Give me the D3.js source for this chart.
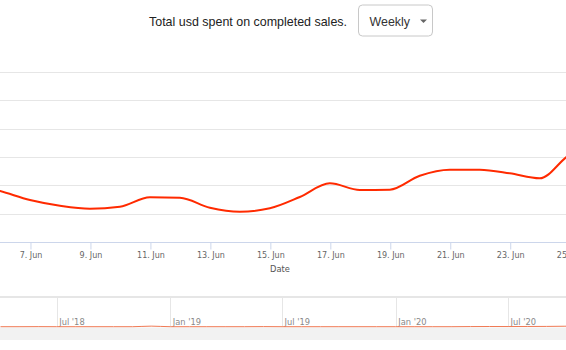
<!DOCTYPE html>
<html>
<head>
<meta charset="utf-8">
<script src="https://cdn.jsdelivr.net/npm/d3@7"></script>
<style>
  html, body { margin: 0; padding: 0; background: #fff; overflow: hidden; }
  svg { display: block; }
</style>
</head>
<body>
<svg id="chart" width="566" height="350"></svg>
<script>
// Daily totals (USD) for completed sales
const days = ["2020-06-05","2020-06-06","2020-06-07","2020-06-08","2020-06-09","2020-06-10",
  "2020-06-11","2020-06-12","2020-06-13","2020-06-14","2020-06-15","2020-06-16","2020-06-17",
  "2020-06-18","2020-06-19","2020-06-20","2020-06-21","2020-06-22","2020-06-23","2020-06-24",
  "2020-06-25","2020-06-26"];
const usdSpent = [2050, 1804, 1488, 1287, 1182, 1252, 1583, 1565, 1217, 1076, 1196, 1593, 2075,
  1840, 1850, 2343, 2554, 2550, 2427, 2251, 3080, 3400];

// Y axis gridline values
const yTicks = [0, 1000, 2000, 3000, 4000, 5000, 6000];
// X axis tick days
const xTickDays = ["2020-06-07","2020-06-09","2020-06-11","2020-06-13","2020-06-15",
  "2020-06-17","2020-06-19","2020-06-21","2020-06-23","2020-06-25"];

// Navigator overview: monthly totals
const navMonths = ["2018-04","2018-05","2018-06","2018-07","2018-08","2018-09","2018-10","2018-11",
  "2018-12","2019-01","2019-02","2019-03","2019-04","2019-05","2019-06","2019-07","2019-08",
  "2019-09","2019-10","2019-11","2019-12","2020-01","2020-02","2020-03","2020-04","2020-05",
  "2020-06","2020-07","2020-08","2020-09","2020-10","2020-11","2020-12"];
const navTotals = [0, 0, 200, 0, 0, 0, 0, 0, 1800, 0, 0, 0, 0, 0, 300, 0, 0, 0, 0, 0, 0, 0, 0,
  0, 0, 400, 600, 500, 700, 900, 1500, 2500, 90000];
const navTickMonths = ["2018-07","2019-01","2019-07","2020-01","2020-07"];

const parseDay = d3.timeParse("%Y-%m-%d");
const parseMonth = d3.timeParse("%Y-%m");

const series = days.map((d, i) => ({ date: parseDay(d), value: usdSpent[i] }));
const navSeries = navMonths.map((m, i) => ({ date: parseMonth(m), value: navTotals[i] }));

const svg = d3.select("#chart");
const W = 566;

// ---- header: title and period selector ----
svg.append("text")
  .attr("x", 149).attr("y", 25.7)
  .attr("textLength", 198).attr("lengthAdjust", "spacingAndGlyphs")
  .style("font-family", "'Liberation Sans', Arial, sans-serif")
  .style("font-size", "13.3px")
  .style("fill", "#222")
  .text("Total usd spent on completed sales.");

const sel = svg.append("g");
sel.append("rect")
  .attr("x", 358.5).attr("y", 5).attr("width", 74).attr("height", 31)
  .attr("rx", 4)
  .attr("fill", "#fff").attr("stroke", "#c8c8c8");
sel.append("text")
  .attr("x", 369.5).attr("y", 25.7)
  .attr("textLength", 40.5).attr("lengthAdjust", "spacingAndGlyphs")
  .style("font-family", "'Liberation Sans', Arial, sans-serif")
  .style("font-size", "13.5px")
  .style("fill", "#333")
  .text("Weekly");
sel.append("path")
  .attr("d", "M420,19.5 L427,19.5 L423.5,23 Z")
  .attr("fill", "#666");

// ---- main plot ----
const plotTop = 71.7, plotBottom = 242.3;
const x = d3.scaleTime()
  .domain([parseDay("2020-06-06"), parseDay("2020-06-25")])
  .range([0, 569.7]);
const y = d3.scaleLinear()
  .domain([0, 6000])
  .range([plotBottom, plotTop]);

// horizontal gridlines
svg.append("g")
  .selectAll("line")
  .data(yTicks.slice(1))
  .join("line")
  .attr("x1", 0).attr("x2", W)
  .attr("y1", d => Math.round(y(d)) + 0.5)
  .attr("y2", d => Math.round(y(d)) + 0.5)
  .attr("stroke", "#e6e6e6");

// x axis
const xAxis = d3.axisBottom(x)
  .tickValues(xTickDays.map(parseDay))
  .tickFormat(d3.timeFormat("%-d. %b"))
  .tickSize(7)
  .tickPadding(3);

const gx = svg.append("g")
  .attr("transform", `translate(0.5,${Math.round(plotBottom) + 0.5})`)
  .call(xAxis);
gx.select(".domain").attr("d", `M-1,0H${W}`).attr("stroke", "#ccd6eb");
gx.selectAll(".tick line").attr("stroke", "#ccd6eb");
gx.selectAll(".tick text")
  .style("font-family", "'DejaVu Sans', Verdana, sans-serif")
  .style("font-size", "8px")
  .style("fill", "#666");

svg.append("text")
  .attr("x", 280).attr("y", 272)
  .attr("text-anchor", "middle")
  .style("font-family", "'DejaVu Sans', Verdana, sans-serif")
  .style("font-size", "8.3px")
  .style("fill", "#555")
  .text("Date");

// series line
svg.append("defs").append("clipPath").attr("id", "plotClip")
  .append("rect").attr("x", 0).attr("y", plotTop - 5).attr("width", W).attr("height", plotBottom - plotTop + 5);

const line = d3.line()
  .x(d => x(d.date))
  .y(d => y(d.value))
  .curve(d3.curveMonotoneX);

svg.append("path")
  .datum(series)
  .attr("clip-path", "url(#plotClip)")
  .attr("d", line)
  .attr("fill", "none")
  .attr("stroke", "#ff2a00")
  .attr("stroke-width", 2)
  .attr("stroke-linejoin", "round");

// ---- navigator ----
const navTop = 298, navBottom = 327;
const nx = d3.scaleTime()
  .domain([parseMonth("2018-07"), parseMonth("2020-07")])
  .range([56.7, 508.1]);
const ny = d3.scaleLinear()
  .domain([0, d3.max(navTotals)])
  .range([navBottom - 0.3, navTop]);

svg.append("rect")
  .attr("x", 0).attr("y", 296).attr("width", W).attr("height", 2)
  .attr("fill", "#e6e6e6");

const navTicks = navTickMonths.map(parseMonth);
svg.append("g")
  .selectAll("line")
  .data(navTicks)
  .join("line")
  .attr("x1", d => Math.round(nx(d)) + 0.5)
  .attr("x2", d => Math.round(nx(d)) + 0.5)
  .attr("y1", navTop).attr("y2", navBottom)
  .attr("stroke", "#e6e6e6");

svg.append("g")
  .selectAll("text")
  .data(navTicks)
  .join("text")
  .attr("x", d => nx(d) + 2.5)
  .attr("y", 324.5)
  .style("font-family", "'DejaVu Sans', Verdana, sans-serif")
  .style("font-size", "8.3px")
  .style("fill", "#888")
  .text(d3.timeFormat("%b '%y"));

svg.append("rect")
  .attr("x", 0).attr("y", 327.5).attr("width", W).attr("height", 12.5)
  .attr("fill", "#f2f2f2");

svg.append("path")
  .datum(navSeries)
  .attr("d", d3.line().x(d => nx(d.date)).y(d => ny(d.value)).curve(d3.curveMonotoneX))
  .attr("fill", "none")
  .attr("stroke", "#f07a55")
  .attr("stroke-width", 1);
</script>
</body>
</html>
